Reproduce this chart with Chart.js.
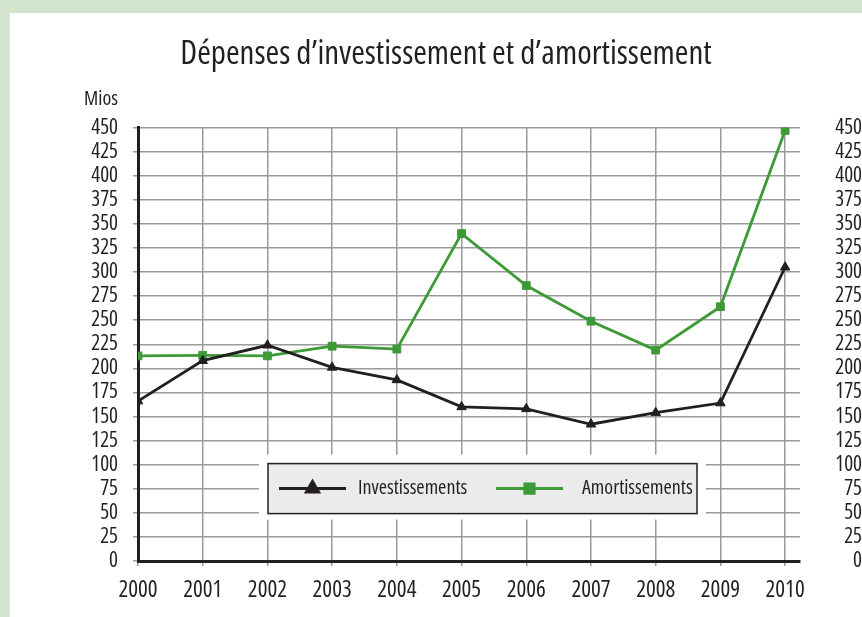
<!DOCTYPE html>
<html>
<head>
<meta charset="utf-8">
<script src="https://cdn.jsdelivr.net/npm/chart.js@4.4.1/dist/chart.umd.min.js"></script>
<style>
  html, body { margin: 0; padding: 0; background: #d3e4cd; }
  #panel { position: absolute; left: 10px; top: 13px; width: 852px; height: 604px; background: #fff; }
</style>
</head>
<body>
<div id="panel"><canvas id="chart" width="852" height="604"></canvas></div>
<script>
// Dépenses annuelles, en millions
var years = [2000, 2001, 2002, 2003, 2004, 2005, 2006, 2007, 2008, 2009, 2010];
var investissements = [166, 208, 224, 201, 188, 160, 158, 142, 154, 164, 305];
var amortissements = [213, 213.5, 213, 223, 220, 340, 286, 249, 219, 264, 447];
var seriesNames = ['Investissements', 'Amortissements'];
var yMin = 0, yMax = 450, yStep = 25;

// Open Sans has a width axis; "condensed" in the font shorthand selects the narrow cut
var FAMILY = "'Open Sans', sans-serif";
var STRETCH = '500 condensed';
var INK = '#231f20';
var GREEN = '#3d9a37';
var GRID = '#9a9a9a';

function cssFont(size) {
  return 'normal ' + STRETCH + ' ' + size + 'px ' + FAMILY;
}

function points(values) {
  return years.map(function (y, i) { return { x: y, y: values[i] }; });
}

// legend box sitting inside the plot, gridlines knocked out around it
var boxLegend = {
  id: 'boxLegend',
  afterDraw: function (chart) {
    var ctx = chart.ctx, a = chart.chartArea;
    var x = a.left + 130, y = a.top + 336, w = 429, h = 50;
    ctx.save();
    ctx.fillStyle = '#fff';
    ctx.fillRect(x - 9, y - 9, w + 18, h + 15);
    ctx.fillStyle = '#ebebec';
    ctx.fillRect(x, y, w, h);
    ctx.strokeStyle = INK;
    ctx.lineWidth = 1.5;
    ctx.strokeRect(x, y, w, h);

    var cy = y + h / 2;
    var slots = [{ line: x + 11, text: x + 90 }, { line: x + 228, text: x + 314 }];
    chart.data.datasets.forEach(function (ds, i) {
      var s = slots[i];
      ctx.strokeStyle = ds.borderColor;
      ctx.lineWidth = 3;
      ctx.beginPath();
      ctx.moveTo(s.line, cy);
      ctx.lineTo(s.line + 67, cy);
      ctx.stroke();
      ctx.fillStyle = ds.backgroundColor;
      Chart.helpers.drawPoint(ctx, { pointStyle: ds.pointStyle, radius: ds.pointStyle === 'triangle' ? 7 : 6.5, rotation: 0, borderWidth: 1 }, s.line + 33.5, cy);
      ctx.fillStyle = INK;
      ctx.font = cssFont(20);
      ctx.textAlign = 'left';
      ctx.textBaseline = 'middle';
      ctx.fillText(ds.label, s.text, cy);
    });
    ctx.restore();
  }
};

// unit label above the left axis
var unitLabel = {
  id: 'unitLabel',
  afterDraw: function (chart) {
    var ctx = chart.ctx;
    ctx.save();
    ctx.fillStyle = INK;
    ctx.font = cssFont(20);
    ctx.textAlign = 'right';
    ctx.textBaseline = 'alphabetic';
    ctx.fillText('Mios', chart.chartArea.left - 20, 92);
    ctx.restore();
  }
};

var tickFont = { family: FAMILY, weight: STRETCH, size: 21 };

new Chart(document.getElementById('chart'), {
  type: 'line',
  data: {
    datasets: [{
      label: seriesNames[0],
      data: points(investissements),
      borderColor: INK,
      backgroundColor: INK,
      borderWidth: 2.8,
      pointStyle: 'triangle',
      pointRadius: 5.5,
      pointBorderWidth: 1,
      tension: 0
    }, {
      label: seriesNames[1],
      data: points(amortissements),
      borderColor: GREEN,
      backgroundColor: GREEN,
      borderWidth: 2.8,
      pointStyle: 'rect',
      pointRadius: 5.5,
      pointBorderWidth: 1,
      tension: 0
    }]
  },
  options: {
    responsive: false,
    animation: false,
    layout: { padding: { left: 20, right: 0, top: 0, bottom: 0 } },
    plugins: {
      legend: { display: false },
      tooltip: { enabled: false },
      title: {
        display: true,
        text: 'Dépenses d’investissement et d’amortissement',
        color: INK,
        font: { family: FAMILY, weight: STRETCH, size: 33 },
        padding: { top: 22, bottom: 53 }
      }
    },
    scales: {
      x: {
        type: 'linear',
        min: years[0],
        max: years[years.length - 1] + 0.23,
        ticks: {
          stepSize: 1,
          includeBounds: false,
          autoSkip: false,
          color: INK,
          font: { family: FAMILY, weight: STRETCH, size: 23 },
          padding: 11,
          maxRotation: 0,
          callback: function (v) { return String(v); }
        },
        grid: { color: GRID, lineWidth: 1.5, tickLength: 5 },
        border: { color: INK, width: 3 },
        afterFit: function (s) { s.height = 56; }
      },
      y: {
        position: 'left',
        min: yMin,
        max: yMax,
        ticks: { stepSize: yStep, autoSkip: false, color: INK, font: tickFont, padding: 15 },
        grid: { color: GRID, lineWidth: 1.5, tickLength: 5 },
        border: { color: INK, width: 3 },
        afterFit: function (s) { s.width = 108; }
      },
      y2: {
        position: 'right',
        min: yMin,
        max: yMax,
        ticks: { stepSize: yStep, autoSkip: false, color: INK, font: tickFont, padding: 30, crossAlign: 'far' },
        grid: { display: false },
        border: { display: false },
        afterFit: function (s) { s.width = 62; }
      }
    }
  },
  plugins: [boxLegend, unitLabel]
});
</script>
</body>
</html>
